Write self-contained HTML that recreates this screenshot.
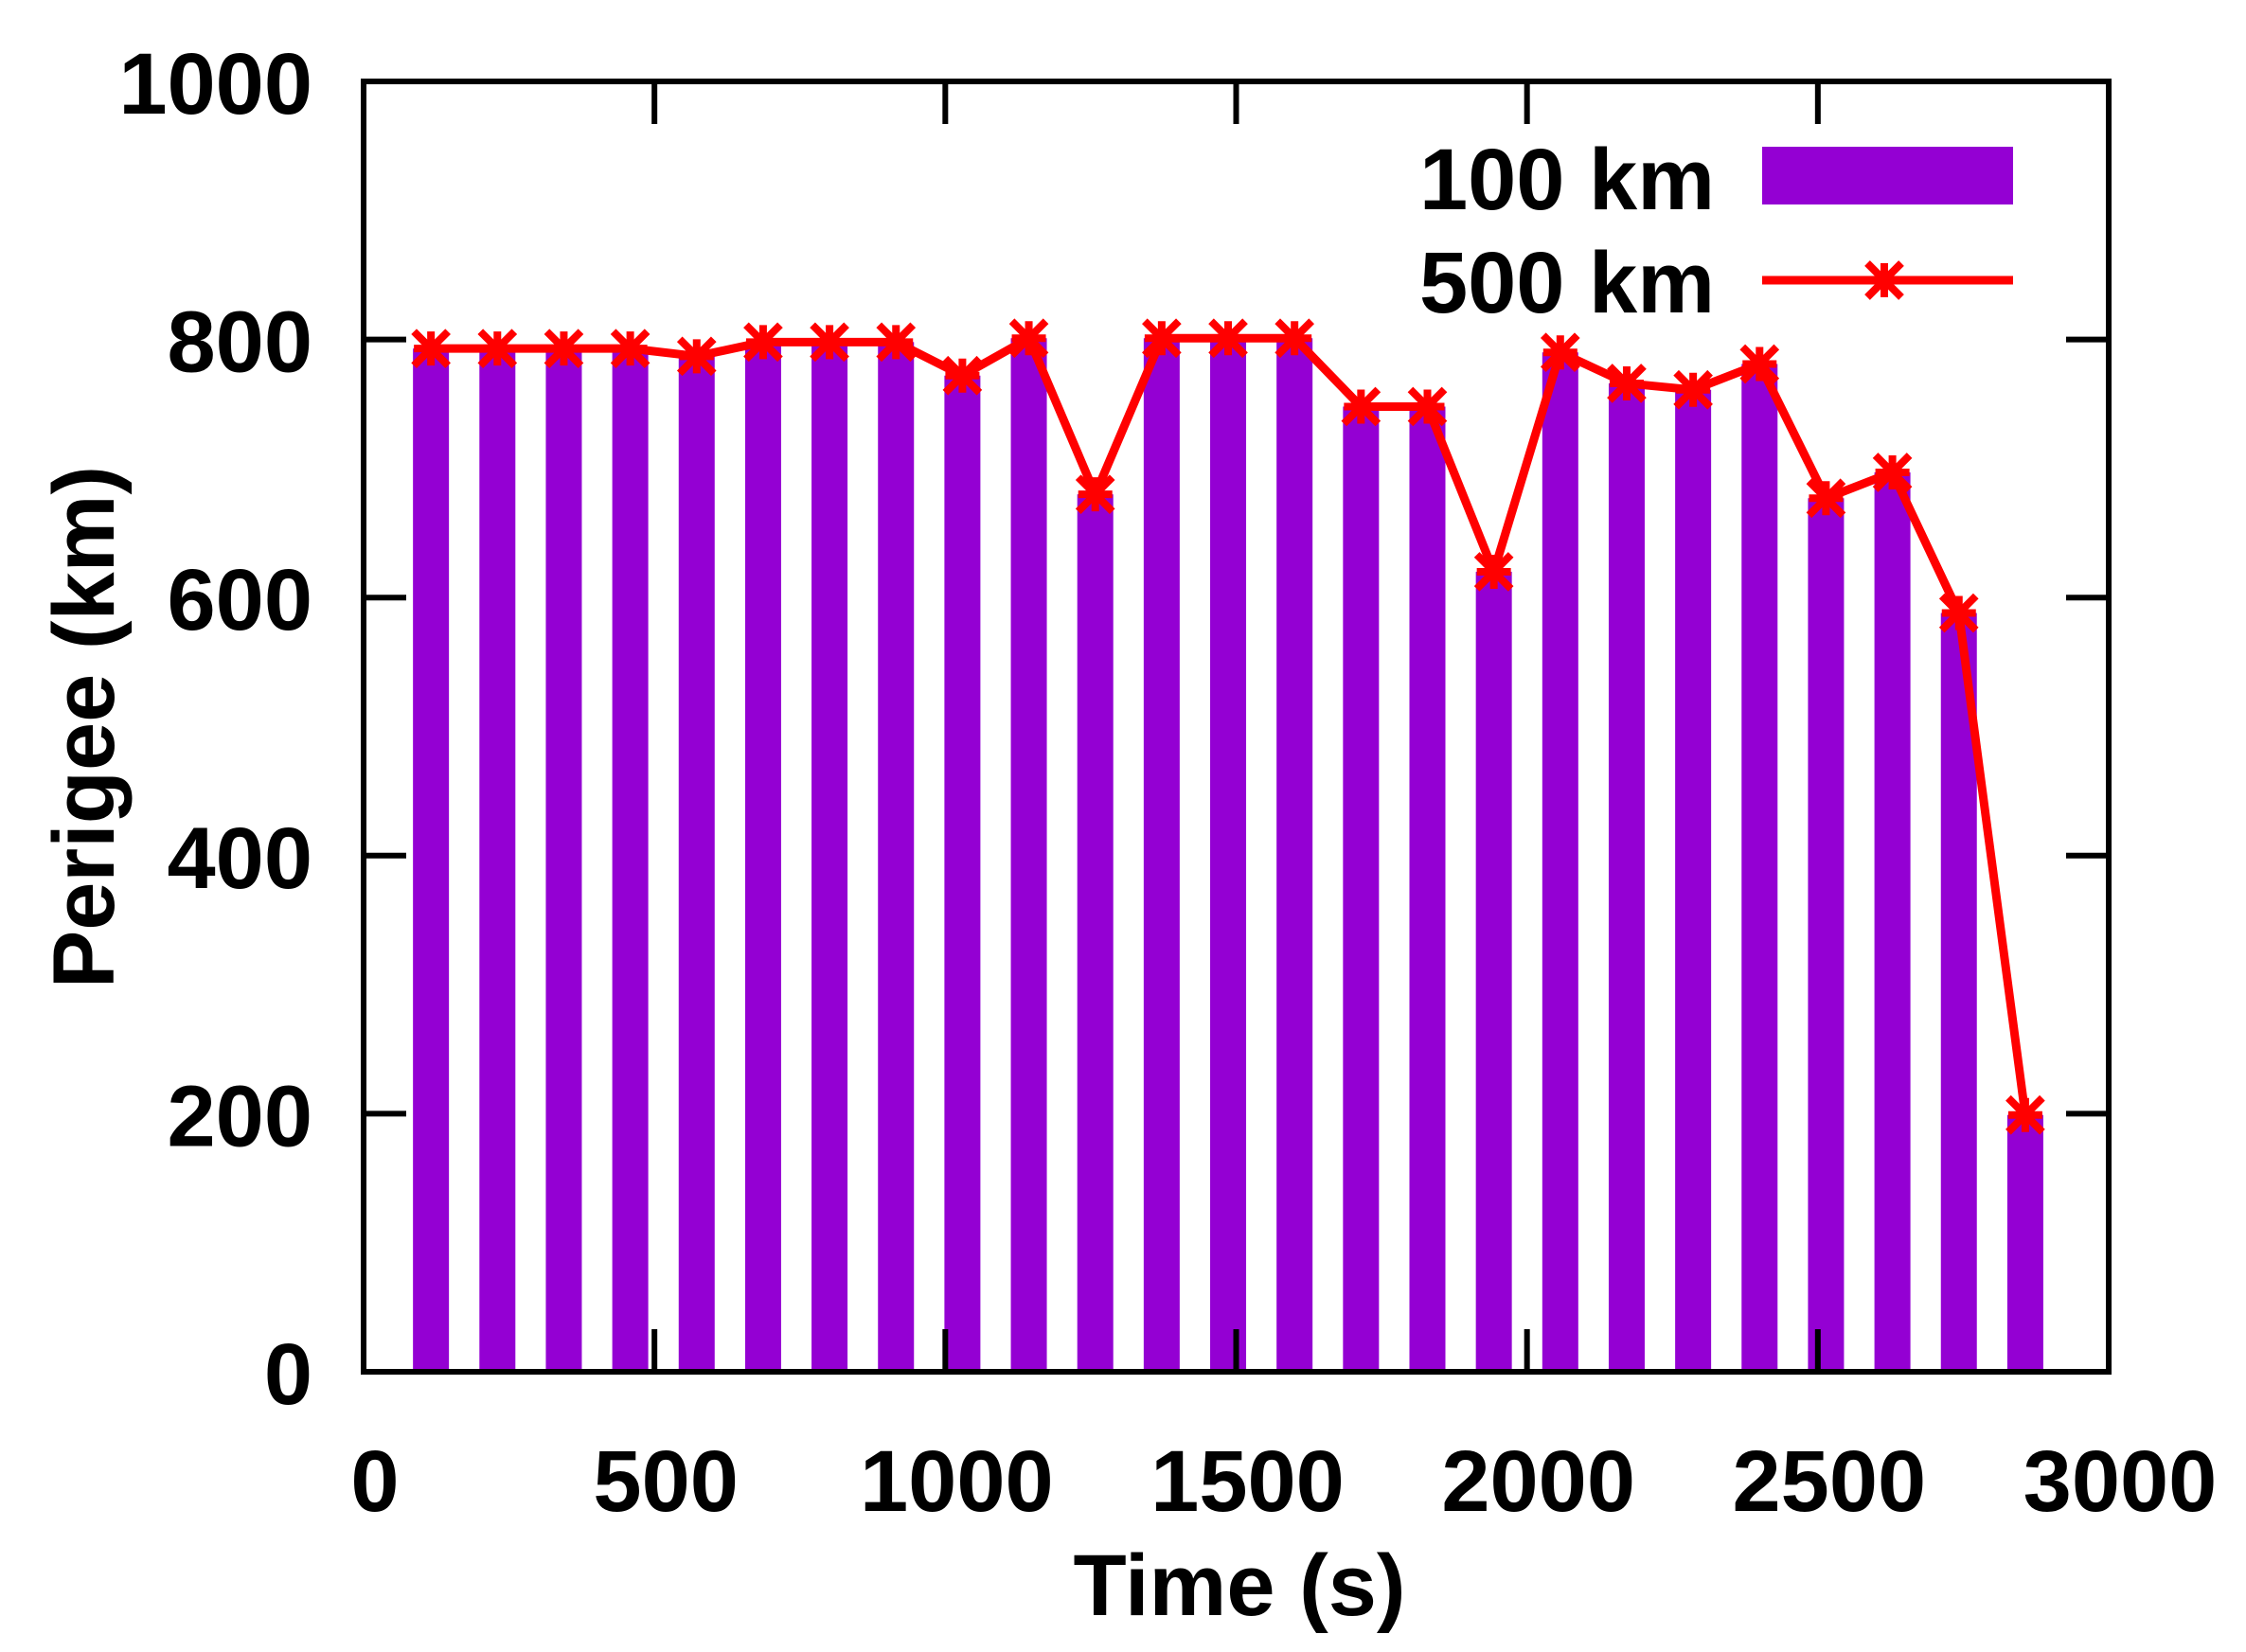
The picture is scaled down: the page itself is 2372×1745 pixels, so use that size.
<!DOCTYPE html>
<html><head><meta charset="utf-8"><style>
html,body{margin:0;padding:0;background:#fff;}
svg{display:block;}
text{font-family:"Liberation Sans",sans-serif;font-weight:bold;fill:#000;}
</style></head><body>
<svg id="s" width="2372" height="1745" viewBox="0 0 2372 1745" xmlns="http://www.w3.org/2000/svg">
<rect width="2372" height="1745" fill="#fff"/>
<g id="bars" fill="#9400d3"></g>
<g id="ticks" stroke="#000" stroke-width="6"></g>
<rect x="384" y="86" width="1843" height="1363" fill="none" stroke="#000" stroke-width="6"/>
<g id="line"></g>
<g id="labels" font-size="92"></g>
<text x="88" y="768" font-size="92" text-anchor="middle" transform="rotate(-90 88 768)" dy="32">Perigee (km)</text>
<text x="1309" y="1706" font-size="92" text-anchor="middle">Time (s)</text>
<text x="1811" y="221" font-size="92" text-anchor="end">100 km</text>
<rect x="1861" y="155" width="265" height="61" fill="#9400d3"/>
<text x="1811" y="330" font-size="92" text-anchor="end">500 km</text>
<line x1="1861" y1="296" x2="2126" y2="296" stroke="#ff0000" stroke-width="9"/>
<g id="legm" stroke="#ff0000" stroke-width="8"></g>
</svg>
<script>
var ns="http://www.w3.org/2000/svg";
function el(p,t,a){var e=document.createElementNS(ns,t);for(var k in a)e.setAttribute(k,a[k]);p.appendChild(e);return e;}
var X=function(t){return 384+t*1843/3000;}, Y=function(v){return 1449-v*1.363;};
var vals=[793,793,793,793,787,798,798,798,772,801,680,801,801,801,748,748,620,790,766,761,781,677,697,588,199];
var bars=document.getElementById('bars'),line=document.getElementById('line'),ticks=document.getElementById('ticks'),labels=document.getElementById('labels');
var pts=[];
vals.forEach(function(v,i){var t=115.8+i*114.2;var x=X(t);el(bars,'rect',{x:x-19,y:Y(v),width:38,height:1449-Y(v)});pts.push([x,Y(v)]);});
el(line,'polyline',{points:pts.map(function(p){return p.join(',')}).join(' '),fill:'none',stroke:'#ff0000','stroke-width':9,'stroke-linejoin':'round'});
function star(g,x,y){var s=18;[[x-s,y,x+s,y],[x,y-s,x,y+s],[x-s,y-s,x+s,y+s],[x-s,y+s,x+s,y-s]].forEach(function(l){el(g,'line',{x1:l[0],y1:l[1],x2:l[2],y2:l[3],stroke:'#ff0000','stroke-width':8});});}
pts.forEach(function(p){star(line,p[0],p[1]);});
star(document.getElementById('legm'),1990,296);
for(var t=0;t<=3000;t+=500){var x=X(t);el(ticks,'line',{x1:x,y1:1449,x2:x,y2:1404});el(ticks,'line',{x1:x,y1:86,x2:x,y2:131});
var tx=el(labels,'text',{x:x+12,y:1596,'text-anchor':'middle'});tx.textContent=t;}
for(var v=0;v<=1000;v+=200){var y=Y(v);el(ticks,'line',{x1:384,y1:y,x2:429,y2:y});el(ticks,'line',{x1:2227,y1:y,x2:2182,y2:y});
var ty=el(labels,'text',{x:330,y:y+34,'text-anchor':'end'});ty.textContent=v;}
</script>
</body></html>
